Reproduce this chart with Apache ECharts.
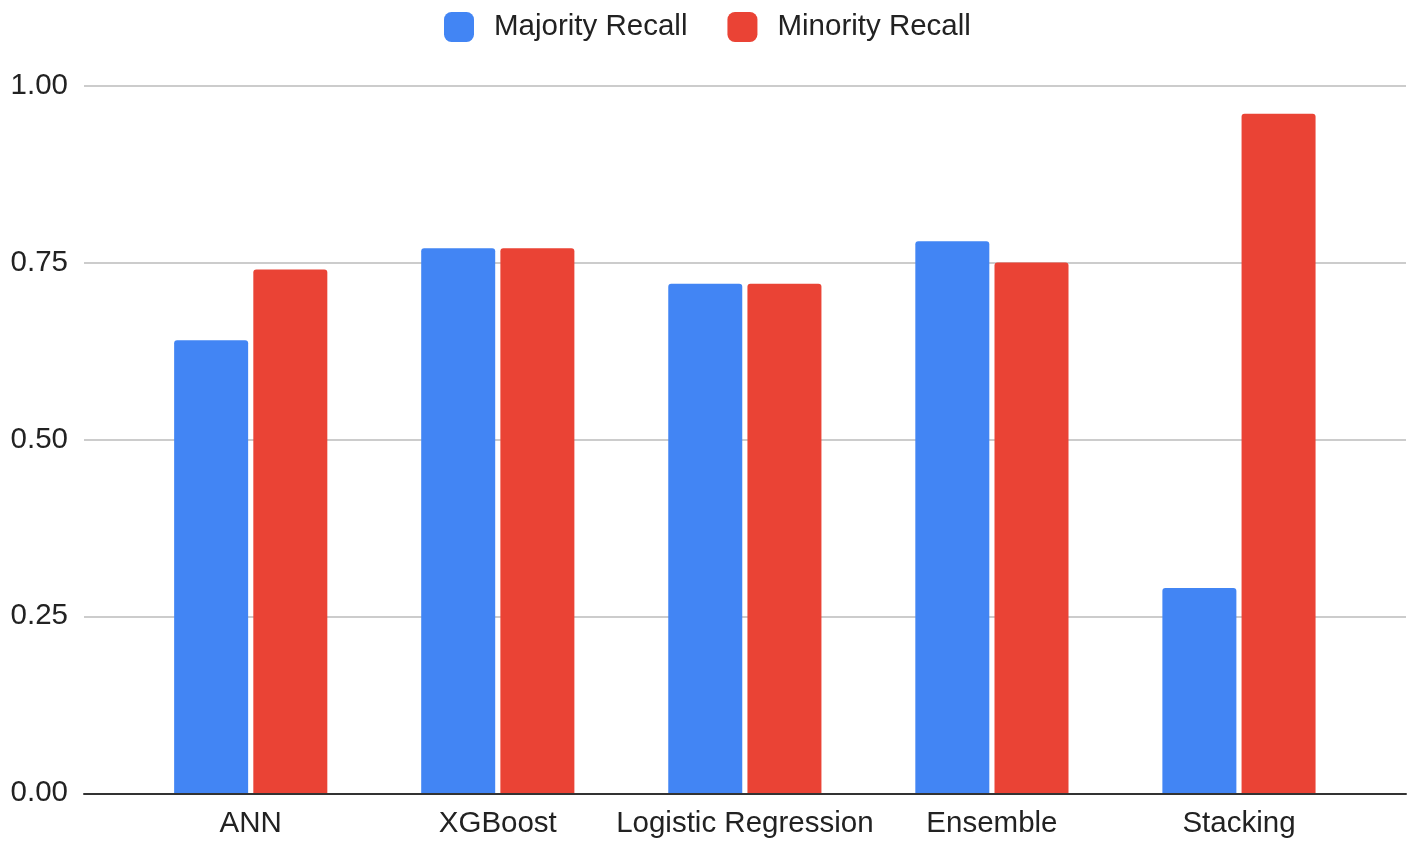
<!DOCTYPE html>
<html>
<head>
<meta charset="utf-8">
<script src="https://cdn.jsdelivr.net/npm/echarts@6/dist/echarts.min.js"></script>
<style>
  html, body { margin: 0; padding: 0; background: #fff; }
  #chart { width: 1415px; height: 843px; }
</style>
</head>
<body>
<div id="chart"></div>
<script>
// data
const categories = ['ANN', 'XGBoost', 'Logistic Regression', 'Ensemble', 'Stacking']
const majorityRecall = [0.64, 0.77, 0.72, 0.78, 0.29]
const minorityRecall = [0.74, 0.77, 0.72, 0.75, 0.96]
const yTicks = [0, 0.25, 0.5, 0.75, 1]

const FONT = '"Liberation Sans", Arial, sans-serif'
const TEXT = '#222'
const SIZE = 29.5

const chart = echarts.init(document.getElementById('chart'))

chart.setOption({
  animation: false,
  color: ['#4285F4', '#EA4335'],
  legend: {
    left: 439,
    top: 7,
    itemWidth: 30,
    itemHeight: 30,
    itemGap: 40,
    icon: 'roundRect',
    textStyle: { fontFamily: FONT, fontSize: SIZE, color: TEXT, padding: [0, 0, 0, 15] },
    data: ['Majority Recall', 'Minority Recall'],
  },
  // grid 0: full-width axis line + gridlines, grid 1: bar bands
  grid: [
    { left: 84, right: 9, top: 85.5, bottom: 49.7 },
    { left: 127.2, right: 52.5, top: 85.5, bottom: 49.7 },
  ],
  xAxis: [
    {
      gridIndex: 0,
      type: 'category',
      data: categories,
      axisLine: { lineStyle: { color: '#333', width: 2 } },
      axisTick: { show: false },
      axisLabel: { show: false },
      z: 5,
    },
    {
      gridIndex: 1,
      type: 'category',
      data: categories,
      axisLine: { show: false },
      axisTick: { show: false },
      axisLabel: { fontFamily: FONT, fontSize: SIZE, color: TEXT, margin: 16, interval: 0 },
    },
  ],
  yAxis: [
    {
      gridIndex: 0,
      type: 'value',
      min: yTicks[0],
      max: yTicks[yTicks.length - 1],
      interval: 0.25,
      axisLine: { show: false },
      axisTick: { show: false },
      axisLabel: {
        fontFamily: FONT,
        fontSize: SIZE,
        color: TEXT,
        margin: 16,
        formatter: v => v.toFixed(2),
      },
      splitLine: { lineStyle: { color: '#ccc', width: 2 } },
    },
    {
      gridIndex: 1,
      type: 'value',
      min: 0,
      max: 1,
      show: false,
    },
  ],
  series: [
    {
      name: 'Majority Recall',
      type: 'bar',
      xAxisIndex: 1,
      yAxisIndex: 1,
      data: majorityRecall,
      barWidth: 74,
      barGap: '7%',
      itemStyle: { borderRadius: [3, 3, 0, 0] },
    },
    {
      name: 'Minority Recall',
      type: 'bar',
      xAxisIndex: 1,
      yAxisIndex: 1,
      data: minorityRecall,
      barWidth: 74,
      barGap: '7%',
      itemStyle: { borderRadius: [3, 3, 0, 0] },
    },
  ],
})

window.addEventListener('resize', () => chart.resize())
</script>
</body>
</html>
